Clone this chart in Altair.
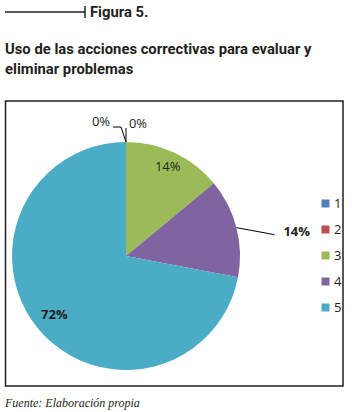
import altair as alt
import pandas as pd

# ---- data ----
categories = ["1", "2", "3", "4", "5"]
values = [0, 0, 14, 14, 72]
pct_labels = ["0%", "0%", "14%", "14%", "72%"]
colors = ["#4F81BD", "#C0504D", "#9BBB59", "#8064A2", "#4BACC6"]

figure_label = "Figura 5."
title_lines = ["Uso de las acciones correctivas para evaluar y", "eliminar problemas"]
source_note = "Fuente: Elaboración propia"

# ---- layout (not data) ----
W, H = 352, 412
CX, CY, R = 126, 256, 114
label_r = [134, 132, 98, 170, 93]
label_ox = [-25, 12, 0, 6, 0]
label_oy = [0, 0, 0, 18, 0]
label_bold = [False, False, False, True, True]
lead = [True, True, False, True, False]
elbow_dx = [-5, 0, 0, 38, 0]
elbow_dy = [-15, -14, 0, 7, 0]
end_dx = [-13, 0, 0, 38, 0]

HEAD = "Roboto, 'Liberation Sans', sans-serif"
LBL = "'Open Sans', 'Liberation Sans', sans-serif"
TXT = "#231f20"

df = pd.DataFrame({
    "cat": categories, "value": values, "label": pct_labels,
    "lr": label_r, "ox": label_ox, "oy": label_oy,
    "bold": label_bold, "lead": lead,
    "edx": elbow_dx, "edy": elbow_dy, "endx": end_dx,
})

base = alt.Chart(df).transform_window(
    cum="sum(value)", sort=[alt.SortField("cat")], frame=[None, 0]
).transform_joinaggregate(total="sum(value)").transform_calculate(
    mid="(datum.cum - datum.value/2) / datum.total * 2 * PI",
)

color_scale = alt.Scale(domain=categories, range=colors)

pie = alt.Chart(df).mark_arc(radius=R, stroke=None).encode(
    theta=alt.Theta("value:Q", stack=True),
    color=alt.Color("cat:N", scale=color_scale, legend=alt.Legend(
        title=None, orient="none", legendX=319, legendY=197,
        symbolType="square", symbolSize=64, symbolStrokeWidth=0,
        labelFontSize=13, labelFont=LBL, labelColor=TXT, rowPadding=12,
        labelOffset=2, padding=0,
    )),
    order=alt.Order("cat:N"),
    x=alt.value(CX), y=alt.value(CY),
)

labels_pos = base.transform_calculate(
    lx=f"{CX} + datum.lr * sin(datum.mid) + datum.ox",
    ly=f"{CY} - datum.lr * cos(datum.mid) + datum.oy",
)

labels_norm = labels_pos.transform_filter("!datum.bold").mark_text(
    fontSize=13, font=LBL, color=TXT, baseline="middle", align="center"
).encode(
    x=alt.X("lx:Q", scale=None, axis=None),
    y=alt.Y("ly:Q", scale=None, axis=None),
    text="label:N",
)
labels_bold = labels_pos.transform_filter("datum.bold").mark_text(
    fontSize=13, font=LBL, color=TXT, baseline="middle", align="center", fontWeight="bold"
).encode(
    x=alt.X("lx:Q", scale=None, axis=None),
    y=alt.Y("ly:Q", scale=None, axis=None),
    text="label:N",
)

lead_pts = base.transform_filter("datum.lead").transform_calculate(
    sx=f"{CX} + {R} * sin(datum.mid)",
    sy=f"{CY} - {R} * cos(datum.mid)",
).transform_calculate(
    ex="datum.sx + datum.edx",
    ey="datum.sy + datum.edy",
    fx="datum.sx + datum.endx",
)
lead1 = lead_pts.mark_rule(color="#000000", strokeWidth=1).encode(
    x=alt.X("sx:Q", scale=None, axis=None), y=alt.Y("sy:Q", scale=None, axis=None),
    x2="ex:Q", y2="ey:Q",
)
lead2 = lead_pts.mark_rule(color="#000000", strokeWidth=1).encode(
    x=alt.X("ex:Q", scale=None, axis=None), y=alt.Y("ey:Q", scale=None, axis=None),
    x2="fx:Q", y2="ey:Q",
)

# frame
frame = alt.Chart(df).transform_filter("datum.cat == '1'").mark_rect(
    fill=None, stroke="#231f20", strokeWidth=1.5
).encode(x=alt.value(5.5), x2=alt.value(343), y=alt.value(101), y2=alt.value(386))

# header
hdr_line = alt.Chart(df).transform_filter("datum.cat == '1'").mark_rule(
    color="#231f20", strokeWidth=1.5
).encode(x=alt.value(5), x2=alt.value(85), y=alt.value(12))
hdr_tick = alt.Chart(df).transform_filter("datum.cat == '1'").mark_rule(
    color="#231f20", strokeWidth=1.5
).encode(x=alt.value(85), y=alt.value(6), y2=alt.value(18))

txt_df = pd.DataFrame({
    "t": [figure_label, title_lines[0], title_lines[1]],
    "kind": ["fig", "t1", "t2"],
})
fig_txt = alt.Chart(txt_df).transform_filter("datum.kind == 'fig'").mark_text(
    font=HEAD, fontSize=14.8, fontWeight="bold", color=TXT, align="left", baseline="middle"
).encode(x=alt.value(90), y=alt.value(13), text="t:N")
title1 = alt.Chart(txt_df).transform_filter("datum.kind == 't1'").mark_text(
    font=HEAD, fontSize=14.8, fontWeight="bold", color=TXT, align="left", baseline="middle"
).encode(x=alt.value(5), y=alt.value(50), text="t:N")
title2 = alt.Chart(txt_df).transform_filter("datum.kind == 't2'").mark_text(
    font=HEAD, fontSize=14.8, fontWeight="bold", color=TXT, align="left", baseline="middle"
).encode(x=alt.value(5), y=alt.value(70), text="t:N")

src_df = pd.DataFrame({"t": [source_note]})
src = alt.Chart(src_df).mark_text(
    font="'Liberation Serif', 'DejaVu Serif', serif", fontSize=12, fontStyle="italic",
    color=TXT, align="left", baseline="middle"
).encode(x=alt.value(5), y=alt.value(403), text="t:N")

chart = alt.layer(
    frame, pie, lead1, lead2, labels_norm, labels_bold,
    hdr_line, hdr_tick, fig_txt, title1, title2, src,
).properties(
    width=W, height=H, autosize=alt.AutoSizeParams(type="none"), padding=0,
    background="white",
).configure_view(stroke=None)

chart.save("out.html", embed_options={"renderer": "svg", "actions": False})
